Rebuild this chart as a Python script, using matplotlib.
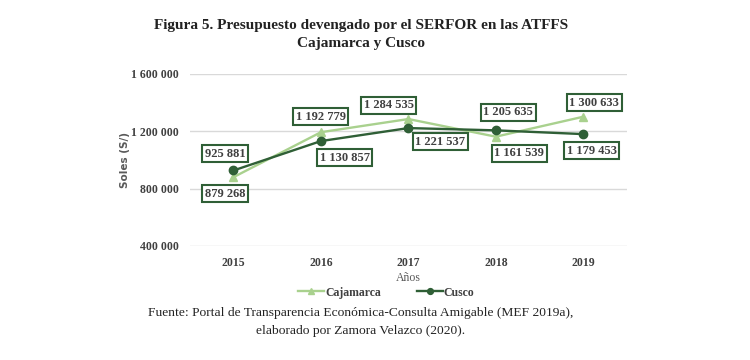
import numpy as np
import matplotlib.pyplot as plt

# Datos
anios = ["2015", "2016", "2017", "2018", "2019"]
cajamarca = [879268, 1192779, 1284535, 1161539, 1300633]
cusco = [925881, 1130857, 1221537, 1205635, 1179453]

def fmt(v):
    return f"{v:,}".replace(",", " ")

plt.rcParams['font.family'] = ['Liberation Serif', 'DejaVu Serif']

fig = plt.figure(figsize=(7.5, 3.6), dpi=100)
ax = fig.add_axes([0.253, 0.317, 0.583, 0.478])

c_caj = "#a9d18e"
c_cus = "#2f5f36"
x = np.arange(len(anios))

ax.plot(x, cajamarca, color=c_caj, lw=1.7, marker="^", ms=6, label="Cajamarca", zorder=3)
ax.plot(x, cusco, color=c_cus, lw=1.7, marker="o", ms=6, label="Cusco", zorder=4)

# desplazamiento de etiquetas (puntos)
caja_off = [(-6, -12), (0, 11), (-14, 10), (17, -12), (8, 10)]
cus_off = [(-6, 12), (17, -12), (23, -10), (9, 13), (6, -12)]
box = dict(boxstyle="square,pad=0.2", fc="white", ec=c_cus, lw=1.5)
for i in range(len(anios)):
    ax.annotate(fmt(cajamarca[i]), (x[i], cajamarca[i]), xytext=caja_off[i],
                textcoords="offset points", ha="center", va="center",
                fontsize=9, fontweight="bold", color="#404040", bbox=box, zorder=5)
    ax.annotate(fmt(cusco[i]), (x[i], cusco[i]), xytext=cus_off[i],
                textcoords="offset points", ha="center", va="center",
                fontsize=9, fontweight="bold", color="#404040", bbox=box, zorder=5)

ax.set_xlim(-0.5, 4.5)
ax.set_ylim(400000, 1600000)
ax.set_yticks([400000, 800000, 1200000, 1600000])
ax.set_yticklabels([fmt(v) for v in [400000, 800000, 1200000, 1600000]])
ax.set_xticks(x)
ax.set_xticklabels(anios)
for lab in ax.get_xticklabels() + ax.get_yticklabels():
    lab.set_fontweight("bold")
    lab.set_fontsize(8.5)
    lab.set_color("#404040")
ax.tick_params(length=0, pad=8)
ax.grid(axis="y", color="#d9d9d9", lw=1)
ax.set_axisbelow(True)
for s in ax.spines.values():
    s.set_visible(False)

ax.set_xlabel("Años", fontsize=8.5, color="#595959", labelpad=2)
ax.set_ylabel("Soles (S/)", fontsize=7.5, color="#595959", family="DejaVu Sans",
              fontweight="bold", labelpad=1)

leg = ax.legend(loc="upper center", bbox_to_anchor=(0.45, -0.175), ncol=2, frameon=False,
                handlelength=2.2, columnspacing=3, handletextpad=0.1, markerscale=0.7,
                prop={"weight": "bold", "size": 8.5})
for t in leg.get_texts():
    t.set_color("#404040")

fig.text(0.481, 0.93, "Figura 5. Presupuesto devengado por el SERFOR en las ATFFS",
         ha="center", va="center", fontsize=11, fontweight="bold", color="#222222")
fig.text(0.481, 0.88, "Cajamarca y Cusco", ha="center", va="center",
         fontsize=11, fontweight="bold", color="#222222")
fig.text(0.481, 0.13, "Fuente: Portal de Transparencia Económica-Consulta Amigable (MEF 2019a),",
         ha="center", va="center", fontsize=9.7, color="#222222")
fig.text(0.481, 0.08, "elaborado por Zamora Velazco (2020).", ha="center", va="center",
         fontsize=9.7, color="#222222")

fig.savefig("out.png", dpi=100)
